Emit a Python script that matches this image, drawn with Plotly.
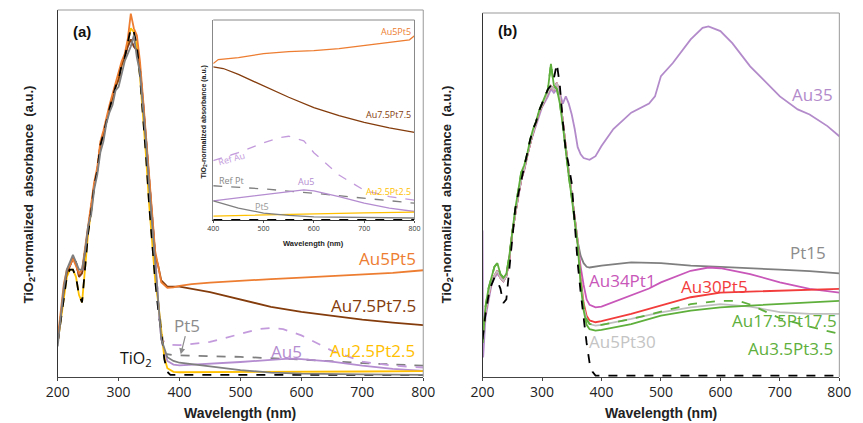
import plotly.graph_objects as go

# ---------------- Panel (a) data ----------------
uv_wl = [200, 205, 210, 215, 220, 225, 230, 235, 240, 245, 250, 255, 260, 265, 270, 275,
         280, 285, 290, 295, 300, 305, 310, 315, 320, 325, 330, 335, 340, 345, 350, 355, 360]
uv_a_common = [0.09, 0.16, 0.23, 0.28, 0.30, 0.32, 0.31, 0.27, 0.28, 0.34, 0.40, 0.45, 0.52, 0.56, 0.63, 0.66,
               0.70, 0.73, 0.76, 0.79, 0.81, 0.85, 0.87, 0.90, 0.92, 0.90, 0.89, 0.84, 0.75, 0.65, 0.53, 0.43, 0.33]
uv_a_gray = [0.08, 0.17, 0.24, 0.29, 0.31, 0.33, 0.31, 0.29, 0.29, 0.34, 0.41, 0.44, 0.51, 0.55, 0.61, 0.64,
             0.69, 0.72, 0.74, 0.78, 0.79, 0.83, 0.86, 0.88, 0.90, 0.93, 0.87, 0.83, 0.74, 0.64, 0.52, 0.42, 0.32]
uv_a_orange = [0.10, 0.18, 0.25, 0.29, 0.30, 0.32, 0.30, 0.28, 0.29, 0.35, 0.41, 0.46, 0.53, 0.57, 0.64, 0.67,
               0.71, 0.74, 0.77, 0.80, 0.83, 0.86, 0.88, 0.92, 0.99, 0.95, 0.93, 0.86, 0.76, 0.66, 0.54, 0.44, 0.34]
uv_a_tio2 = [0.09, 0.15, 0.22, 0.27, 0.29, 0.29, 0.27, 0.22, 0.20, 0.30, 0.39, 0.45, 0.52, 0.56, 0.63, 0.66,
             0.70, 0.73, 0.76, 0.79, 0.81, 0.85, 0.87, 0.91, 0.95, 0.94, 0.90, 0.82, 0.72, 0.60, 0.47, 0.36, 0.26]

vis_a_wl = {
    "Au5Pt5": [365, 370, 380, 390, 400, 420, 450, 500, 550, 600, 650, 700, 750, 800],
    "Au7.5Pt7.5": [365, 370, 380, 390, 400, 450, 500, 550, 600, 650, 700, 750, 800],
    "Ref Au": [365, 370, 380, 400, 450, 500, 530, 550, 570, 600, 650, 700, 750, 800],
    "Ref Pt": [365, 375, 390, 400, 500, 600, 700, 800],
    "Au5": [365, 370, 380, 390, 400, 450, 500, 550, 580, 600, 650, 700, 750, 800],
    "Au2.5Pt2.5": [365, 370, 375, 380, 390, 400, 500, 600, 700, 800],
    "TiO2": [365, 370, 375, 380, 385, 800],
    "Pt5": [365, 370, 380, 390, 400, 450, 500, 550, 600, 700, 800],
}
vis_a_val = {
    "Au5Pt5": [0.30, 0.255, 0.240, 0.241, 0.245, 0.250, 0.254, 0.260, 0.264, 0.268, 0.272, 0.276, 0.281, 0.288],
    "Au7.5Pt7.5": [0.30, 0.260, 0.243, 0.243, 0.243, 0.228, 0.207, 0.188, 0.174, 0.163, 0.153, 0.145, 0.138],
    "Ref Au": [0.20, 0.10, 0.085, 0.083, 0.092, 0.115, 0.127, 0.130, 0.127, 0.110, 0.068, 0.038, 0.027, 0.022],
    "Ref Pt": [0.20, 0.060, 0.056, 0.055, 0.051, 0.044, 0.034, 0.027],
    "Au5": [0.20, 0.10, 0.040, 0.030, 0.028, 0.032, 0.037, 0.043, 0.046, 0.045, 0.038, 0.027, 0.018, 0.013],
    "Au2.5Pt2.5": [0.20, 0.12, 0.050, 0.020, 0.010, 0.009, 0.009, 0.010, 0.011, 0.012],
    "TiO2": [0.18, 0.12, 0.045, 0.010, 0.002, 0.002],
    "Pt5": [0.20, 0.10, 0.050, 0.040, 0.035, 0.025, 0.015, 0.008, 0.005, 0.003, 0.002],
}
uv_a_of = {"Au5Pt5": uv_a_orange, "Au7.5Pt7.5": uv_a_common, "Ref Au": uv_a_common,
           "Ref Pt": uv_a_common, "Au5": uv_a_common, "Pt5": uv_a_gray,
           "Au2.5Pt2.5": uv_a_tio2, "TiO2": uv_a_tio2}

# ---------------- Inset data ----------------
ins_wl = {
    "Au5Pt5": [400, 410, 450, 500, 550, 600, 650, 700, 750, 790, 800],
    "Au7.5Pt7.5": [400, 420, 450, 500, 550, 600, 650, 700, 750, 800],
    "Ref Au": [400, 450, 500, 530, 550, 580, 600, 650, 700, 750, 800],
    "Ref Pt": [400, 500, 600, 700, 800],
    "Au5": [400, 450, 500, 550, 580, 600, 650, 700, 750, 800],
    "Au2.5Pt2.5": [400, 500, 600, 700, 800],
    "TiO2": [400, 800],
    "Pt5": [400, 450, 500, 550, 600, 700, 800],
}
ins_val = {
    "Au5Pt5": [0.78, 0.80, 0.81, 0.83, 0.84, 0.845, 0.855, 0.87, 0.885, 0.90, 0.92],
    "Au7.5Pt7.5": [0.763, 0.755, 0.725, 0.667, 0.61, 0.558, 0.517, 0.483, 0.455, 0.433],
    "Ref Au": [0.29, 0.33, 0.38, 0.405, 0.413, 0.39, 0.33, 0.217, 0.14, 0.108, 0.09],
    "Ref Pt": [0.163, 0.147, 0.125, 0.10, 0.075],
    "Au5": [0.087, 0.103, 0.117, 0.136, 0.142, 0.137, 0.108, 0.075, 0.05, 0.033],
    "Au2.5Pt2.5": [0.010, 0.016, 0.021, 0.026, 0.030],
    "TiO2": [-0.008, -0.008],
    "Pt5": [0.087, 0.05, 0.025, 0.013, 0.006, 0.002, 0.0],
}

# ---------------- Panel (b) data ----------------
uv_b_common = [0.11, 0.174, 0.22, 0.257, 0.275, 0.289, 0.27, 0.261, 0.275, 0.32, 0.394, 0.45, 0.495, 0.54, 0.569, 0.606,
               0.642, 0.67, 0.697, 0.725, 0.743, 0.761, 0.78, 0.798, 0.789, 0.807, 0.771, 0.70, 0.62, 0.56, 0.50, 0.43, 0.37]
uv_b_green = [0.09, 0.19, 0.24, 0.27, 0.30, 0.31, 0.28, 0.27, 0.28, 0.33, 0.40, 0.46, 0.51, 0.56, 0.58, 0.61,
              0.65, 0.68, 0.70, 0.73, 0.75, 0.77, 0.79, 0.86, 0.80, 0.79, 0.75, 0.69, 0.61, 0.55, 0.49, 0.42, 0.36]
uv_b_tio2 = [0.10, 0.17, 0.22, 0.25, 0.27, 0.26, 0.24, 0.20, 0.21, 0.30, 0.39, 0.46, 0.50, 0.54, 0.57, 0.61,
             0.65, 0.68, 0.70, 0.73, 0.75, 0.77, 0.79, 0.80, 0.82, 0.86, 0.80, 0.70, 0.62, 0.58, 0.53, 0.42, 0.31]
uv_b_au35_wl = [200, 201, 205, 210, 215, 220, 225, 230, 235, 240, 245, 250, 255, 260, 265, 270, 275,
                280, 285, 290, 295, 300, 305, 310, 315, 320, 325, 330, 335, 340, 345, 350, 355, 360]
uv_b_au35 = [0.40, 0.05, 0.16, 0.21, 0.25, 0.27, 0.28, 0.27, 0.26, 0.275, 0.32, 0.39, 0.45, 0.49, 0.54, 0.565, 0.60,
             0.64, 0.665, 0.69, 0.72, 0.74, 0.755, 0.77, 0.79, 0.78, 0.79, 0.78, 0.75, 0.77, 0.75, 0.72, 0.68, 0.63]

vis_b_wl = {
    "Au35": [365, 370, 380, 390, 400, 420, 450, 480, 490, 500, 520, 550, 570, 580, 600, 620, 650, 680, 700, 730, 750, 780, 800],
    "Pt15": [365, 370, 375, 380, 400, 450, 500, 550, 600, 650, 700, 750, 800],
    "Au34Pt1": [365, 370, 375, 380, 390, 400, 450, 480, 500, 550, 580, 600, 650, 700, 750, 800],
    "Au30Pt5": [365, 370, 375, 380, 390, 400, 450, 500, 550, 600, 650, 700, 750, 800],
    "Au5Pt30": [365, 370, 375, 380, 390, 400, 450, 500, 550, 600, 650, 700, 750, 800],
    "Au3.5Pt3.5": [365, 370, 375, 380, 400, 450, 500, 550, 600, 630, 650, 700, 750, 800],
    "Au17.5Pt17.5": [365, 370, 375, 380, 390, 400, 450, 500, 550, 600, 650, 700, 750, 800],
    "TiO2": [365, 370, 375, 380, 385, 390, 800],
}
vis_b_val = {
    "Au35": [0.61, 0.60, 0.595, 0.605, 0.633, 0.68, 0.725, 0.75, 0.77, 0.826, 0.862, 0.927, 0.959, 0.963, 0.95, 0.917,
             0.853, 0.803, 0.77, 0.734, 0.72, 0.688, 0.66],
    "Pt15": [0.33, 0.31, 0.30, 0.298, 0.303, 0.312, 0.31, 0.303, 0.30, 0.295, 0.292, 0.288, 0.282],
    "Au34Pt1": [0.30, 0.25, 0.21, 0.195, 0.188, 0.19, 0.22, 0.24, 0.257, 0.289, 0.298, 0.296, 0.28, 0.257, 0.239, 0.229],
    "Au30Pt5": [0.27, 0.20, 0.165, 0.152, 0.147, 0.15, 0.17, 0.193, 0.216, 0.229, 0.231, 0.234, 0.235, 0.239],
    "Au5Pt30": [0.26, 0.19, 0.155, 0.142, 0.138, 0.14, 0.156, 0.174, 0.188, 0.197, 0.19, 0.175, 0.17, 0.17],
    "Au3.5Pt3.5": [0.26, 0.19, 0.155, 0.142, 0.14, 0.156, 0.176, 0.197, 0.206, 0.206, 0.196, 0.158, 0.135, 0.115],
    "Au17.5Pt17.5": [0.25, 0.18, 0.14, 0.128, 0.124, 0.126, 0.142, 0.165, 0.179, 0.188, 0.193, 0.197, 0.20, 0.206],
    "TiO2": [0.23, 0.156, 0.09, 0.035, 0.01, 0.0, 0.0],
}
uv_b_of = {"Au35": uv_b_au35, "Pt15": uv_b_common, "Au34Pt1": uv_b_common, "Au30Pt5": uv_b_common,
           "Au5Pt30": uv_b_common, "Au17.5Pt17.5": uv_b_green, "Au3.5Pt3.5": uv_b_green, "TiO2": uv_b_tio2}
uv_b_wl_of = {k: (uv_b_au35_wl if k == "Au35" else uv_wl) for k in uv_b_of}

# ---------------- styles ----------------
style_a = {
    "Ref Pt": dict(color="#7F7F7F", dash="dash"),
    "Ref Au": dict(color="#C39BDC", dash="dash"),
    "Au5": dict(color="#B48CD0", dash="solid"),
    "Au2.5Pt2.5": dict(color="#FFC000", dash="solid"),
    "Au7.5Pt7.5": dict(color="#843C0C", dash="solid"),
    "Au5Pt5": dict(color="#ED7D31", dash="solid"),
    "TiO2": dict(color="#000000", dash="dash"),
    "Pt5": dict(color="#7F7F7F", dash="solid"),
}
style_b = {
    "Au35": dict(color="#B38BCB", dash="solid"),
    "Pt15": dict(color="#7F7F7F", dash="solid"),
    "Au34Pt1": dict(color="#C857B9", dash="solid"),
    "Au30Pt5": dict(color="#F23C3C", dash="solid"),
    "Au5Pt30": dict(color="#BFBFBF", dash="solid"),
    "Au3.5Pt3.5": dict(color="#5EAF3C", dash="dash"),
    "Au17.5Pt17.5": dict(color="#5EAF3C", dash="solid"),
    "TiO2": dict(color="#000000", dash="dash"),
}

fig = go.Figure()

for name, st in style_a.items():
    fig.add_trace(go.Scatter(x=uv_wl + vis_a_wl[name], y=uv_a_of[name] + vis_a_val[name], mode="lines",
                             line=dict(color=st["color"], dash=st["dash"], width=1.8), name=name,
                             xaxis="x", yaxis="y", showlegend=False))
for name, st in style_a.items():
    fig.add_trace(go.Scatter(x=ins_wl[name], y=ins_val[name], mode="lines",
                             line=dict(color=st["color"], dash=st["dash"], width=1.3), name=name,
                             xaxis="x3", yaxis="y3", showlegend=False))
for name, st in style_b.items():
    fig.add_trace(go.Scatter(x=uv_b_wl_of[name] + vis_b_wl[name], y=uv_b_of[name] + vis_b_val[name], mode="lines",
                             line=dict(color=st["color"], dash=st["dash"], width=1.8), name=name,
                             xaxis="x2", yaxis="y2", showlegend=False))

H = 423.0
W = 863.0
tickfont = dict(family="Open Sans", size=14, color="#222")
xcommon = dict(range=[200, 800], tickvals=[200, 300, 400, 500, 600, 700, 800], showgrid=False, zeroline=False,
               showline=True, linecolor="#444", linewidth=1, ticks="outside", ticklen=3, tickcolor="#444",
               tickfont=tickfont, ticklabelstandoff=-1)
ycommon = dict(showgrid=False, zeroline=False, showline=True, linecolor="#333", linewidth=1.2,
               showticklabels=False, ticks="")

fig.update_layout(
    width=863, height=423, margin=dict(l=0, r=0, t=0, b=0),
    paper_bgcolor="white", plot_bgcolor="rgba(0,0,0,0)",
    xaxis=dict(domain=[47 / W, 423 / W], anchor="y", **xcommon),
    yaxis=dict(domain=[1 - 377 / H, 1 - 10 / H], anchor="x", range=[-0.004, 1], **ycommon),
    xaxis2=dict(domain=[484 / W, 851 / W], anchor="y2", **xcommon),
    yaxis2=dict(domain=[1 - 377 / H, 1 - 13 / H], anchor="x2", range=[-0.004, 1], **ycommon),
    xaxis3=dict(domain=[207 / W, 414 / W], anchor="y3", range=[400, 800], tickvals=[400, 500, 600, 700, 800],
                showgrid=False, zeroline=False, showline=True, linecolor="#333", linewidth=1,
                ticks="outside", ticklen=2, tickcolor="#555", tickfont=dict(family="Open Sans", size=7, color="#333")),
    yaxis3=dict(domain=[1 - 220 / H, 1 - 20 / H], anchor="x3", range=[-0.01, 1], showgrid=False, zeroline=False,
                showline=True, linecolor="#888", linewidth=1, showticklabels=False, ticks=""),
)

shapes = []
for (x0, x1, y0) in [(47, 423, 10), (484, 851, 13)]:
    shapes.append(dict(type="line", xref="paper", yref="paper", x0=x0 / W, x1=x1 / W, y0=1 - y0 / H, y1=1 - y0 / H,
                       line=dict(color="#999", width=1)))
    shapes.append(dict(type="line", xref="paper", yref="paper", x0=x1 / W, x1=x1 / W, y0=1 - y0 / H, y1=1 - 377 / H,
                       line=dict(color="#999", width=1)))
shapes.append(dict(type="line", xref="paper", yref="paper", x0=207 / W, x1=414 / W, y0=1 - 20 / H, y1=1 - 20 / H,
                   line=dict(color="#888", width=1)))
shapes.append(dict(type="line", xref="paper", yref="paper", x0=414 / W, x1=414 / W, y0=1 - 20 / H, y1=1 - 220 / H,
                   line=dict(color="#888", width=1)))
fig.update_layout(shapes=shapes)

ann = []
def A(text, x, y, color, xref, yref, xanchor="center", size=17, bold=False, family="Open Sans", angle=0):
    t = "<b>" + text + "</b>" if bold else text
    ann.append(dict(text=t, x=x, y=y, xref=xref, yref=yref, xanchor=xanchor, yanchor="middle", showarrow=False,
                    textangle=angle, font=dict(family=family, size=size, color=color)))

# panel (a)
A("(a)", 240, 0.94, "#111", "x", "y", size=15, bold=True, family="Liberation Sans")
A("Au5Pt5", 792, 0.319, "#ED7D31", "x", "y", xanchor="right")
A("Au7.5Pt7.5", 792, 0.191, "#843C0C", "x", "y", xanchor="right")
A("Pt5", 412, 0.136, "#8C8C8C", "x", "y")
A("Au5", 575, 0.065, "#B48CD0", "x", "y")
A("Au2.5Pt2.5", 790, 0.068, "#FFC000", "x", "y", xanchor="right")
A("TiO<sub>2</sub>", 328, 0.046, "#111", "x", "y", size=16)
ann.append(dict(text="", x=402, y=0.058, xref="x", yref="y", ax=410, ay=0.112, axref="x", ayref="y",
                showarrow=True, arrowhead=2, arrowsize=1, arrowwidth=1.2, arrowcolor="#8C8C8C"))
# inset
A("Au5Pt5", 797, 0.94, "#ED7D31", "x3", "y3", xanchor="right", size=9)
A("Au7.5Pt7.5", 797, 0.525, "#843C0C", "x3", "y3", xanchor="right", size=9)
A("Ref Au", 437, 0.30, "#C39BDC", "x3", "y3", size=9, angle=-15)
A("Ref Pt", 437, 0.19, "#888", "x3", "y3", size=9)
A("Au5", 585, 0.185, "#B48CD0", "x3", "y3", size=9)
A("Au2.5Pt2.5", 797, 0.135, "#FFC000", "x3", "y3", xanchor="right", size=9)
A("Pt5", 497, 0.06, "#999", "x3", "y3", size=9)
ann.append(dict(text="<b>Wavelength (nm)</b>", x=(207 + 414) / 2 / W, y=1 - 243 / H, xref="paper", yref="paper",
                yanchor="middle", showarrow=False, font=dict(family="Liberation Sans", size=7.5, color="#222")))
ann.append(dict(text="<b>TiO<sub>2</sub>-normalized absorbance (a.u.)</b>", x=197 / W, y=1 - 122 / H,
                xref="paper", yref="paper", showarrow=False, textangle=-90, xanchor="center", yanchor="middle",
                font=dict(family="Liberation Sans", size=7, color="#222")))
# panel (b)
A("(b)", 242, 0.953, "#111", "x2", "y2", size=15, bold=True, family="Liberation Sans")
A("Au35", 792, 0.775, "#B38BCB", "x2", "y2", xanchor="right")
A("Pt15", 781, 0.34, "#8C8C8C", "x2", "y2", xanchor="right")
A("Au34Pt1", 376, 0.261, "#C857B9", "x2", "y2", xanchor="left")
A("Au30Pt5", 531, 0.247, "#F23C3C", "x2", "y2", xanchor="left")
A("Au17.5Pt17.5", 799, 0.151, "#5EAF3C", "x2", "y2", xanchor="right")
A("Au5Pt30", 376, 0.093, "#C4C4C4", "x2", "y2", xanchor="left")
A("Au3.5Pt3.5", 792, 0.074, "#5EAF3C", "x2", "y2", xanchor="right")

# axis titles
for cx in [(47 + 423) / 2, (484 + 851) / 2]:
    ann.append(dict(text="<b>Wavelength (nm)</b>", x=cx / W, y=1 - 413 / H, xref="paper", yref="paper",
                    xanchor="center", yanchor="middle", showarrow=False,
                    font=dict(family="Liberation Sans", size=14, color="#222")))
for cx in [17, 447]:
    ann.append(dict(text="<b>TiO<sub>2</sub>-normalized  absorbance  (a.u.)</b>", x=cx / W, y=1 - 195 / H,
                    xref="paper", yref="paper", showarrow=False, textangle=-90, xanchor="center", yanchor="middle",
                    font=dict(family="Liberation Sans", size=13, color="#222")))
fig.update_layout(annotations=ann)

fig.write_html("out.html")
